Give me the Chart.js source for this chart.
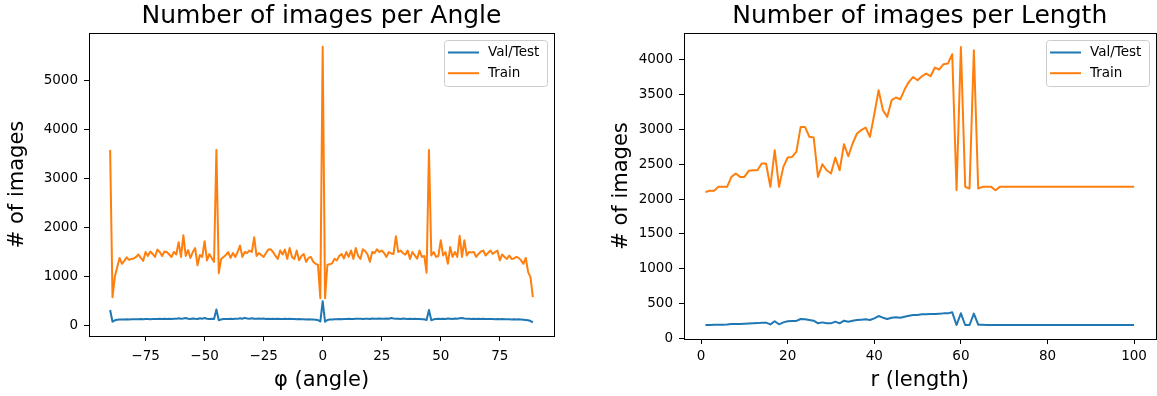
<!DOCTYPE html>
<html>
<head>
<meta charset="utf-8">
<title>Number of images per Angle / Length</title>
<script src="https://cdn.jsdelivr.net/npm/chart.js@4.4.1/dist/chart.umd.min.js"></script>
<style>
  html, body { margin: 0; padding: 0; background: #fff; }
  body { width: 1157px; height: 396px; position: relative; overflow: hidden; }
  canvas { position: absolute; top: 0; }
  #angleChart { left: 0; }
  #lengthChart { left: 578px; }
</style>
</head>
<body>
<canvas id="angleChart" width="578" height="396"></canvas>
<canvas id="lengthChart" width="579" height="396"></canvas>
<script>
// ---- data: images per angle ----
const ANGLES = [
  -90, -89, -88, -87, -86, -85, -84, -83, -82, -81,
  -80, -79, -78, -77, -76, -75, -74, -73, -72, -71,
  -70, -69, -68, -67, -66, -65, -64, -63, -62, -61,
  -60, -59, -58, -57, -56, -55, -54, -53, -52, -51,
  -50, -49, -48, -47, -46, -45, -44, -43, -42, -41,
  -40, -39, -38, -37, -36, -35, -34, -33, -32, -31,
  -30, -29, -28, -27, -26, -25, -24, -23, -22, -21,
  -20, -19, -18, -17, -16, -15, -14, -13, -12, -11,
  -10, -9, -8, -7, -6, -5, -4, -3, -2, -1,
  0, 1, 2, 3, 4, 5, 6, 7, 8, 9,
  10, 11, 12, 13, 14, 15, 16, 17, 18, 19,
  20, 21, 22, 23, 24, 25, 26, 27, 28, 29,
  30, 31, 32, 33, 34, 35, 36, 37, 38, 39,
  40, 41, 42, 43, 44, 45, 46, 47, 48, 49,
  50, 51, 52, 53, 54, 55, 56, 57, 58, 59,
  60, 61, 62, 63, 64, 65, 66, 67, 68, 69,
  70, 71, 72, 73, 74, 75, 76, 77, 78, 79,
  80, 81, 82, 83, 84, 85, 86, 87, 88, 89
];
const ANGLE_VAL = [
  320, 80, 110, 120, 125, 128, 126, 130, 128, 132,
  130, 133, 131, 135, 130, 134, 137, 133, 136, 138,
  135, 140, 136, 142, 138, 140, 137, 143, 139, 150,
  140, 145, 155, 140, 138, 146, 140, 137, 150, 142,
  155, 140, 136, 142, 135, 330, 110, 128, 135, 138,
  134, 140, 137, 143, 139, 150, 141, 160, 145, 140,
  150, 142, 139, 145, 140, 146, 138, 142, 135, 140,
  137, 143, 138, 135, 141, 136, 139, 134, 137, 132,
  135, 130, 133, 128, 130, 126, 128, 122, 115, 85,
  500, 80, 115, 125, 128, 132, 130, 135, 133, 137,
  135, 140, 138, 136, 142, 139, 141, 137, 143, 140,
  138, 145, 141, 139, 146, 140, 143, 148, 142, 155,
  145, 140, 142, 138, 144, 140, 137, 141, 136, 139,
  135, 138, 133, 130, 115, 320, 110, 130, 137, 140,
  135, 142, 138, 145, 140, 136, 148, 142, 150, 155,
  145, 140, 143, 138, 141, 137, 140, 135, 139, 136,
  138, 134, 137, 133, 136, 131, 135, 132, 130, 133,
  128, 131, 127, 129, 125, 122, 118, 110, 95, 70
];
const ANGLE_TRAIN = [
  3580, 580, 1000, 1190, 1380, 1260, 1320, 1390, 1340, 1360,
  1370, 1400, 1450, 1380, 1320, 1500, 1420, 1510, 1460, 1400,
  1550, 1500, 1420, 1510, 1500, 1450, 1400, 1500, 1450, 1700,
  1400, 1840, 1420, 1540, 1380, 1500, 1580, 1230, 1440, 1400,
  1720, 1330, 1460, 1380, 1300, 3580, 1070, 1360, 1400, 1440,
  1500, 1380, 1480, 1400, 1500, 1630, 1400, 1500, 1480, 1530,
  1500, 1800, 1420, 1480, 1440, 1400, 1480, 1550, 1555, 1500,
  1420, 1360, 1530, 1450, 1550, 1360, 1580, 1400, 1360, 1530,
  1330, 1420, 1460, 1300, 1380, 1400, 1300, 1260, 1240, 560,
  5680, 560, 1240, 1250, 1270, 1360, 1330, 1420, 1460, 1370,
  1500, 1400, 1530, 1360, 1580, 1420, 1360, 1555, 1520, 1450,
  1300, 1500, 1480, 1555, 1500, 1530, 1480, 1400, 1500, 1470,
  1460, 1820, 1500, 1530, 1480, 1445, 1530, 1360, 1500, 1430,
  1364, 1530, 1400, 1420, 1080, 3580, 1430, 1500, 1400, 1420,
  1740, 1430, 1500, 1260, 1600, 1400, 1500, 1400, 1830, 1400,
  1740, 1430, 1500, 1490, 1500, 1400, 1460, 1510, 1530, 1430,
  1480, 1530, 1460, 1500, 1530, 1330, 1450, 1400, 1360, 1430,
  1360, 1370, 1400, 1380, 1330, 1260, 1380, 1090, 990, 580
];
const ANGLE_TICKS = [-75, -50, -25, 0, 25, 50, 75];
const ANGLE_Y_TICKS = [0, 1000, 2000, 3000, 4000, 5000];

// ---- data: images per length ----
const LENGTHS = [
  1, 2, 3, 4, 5, 6, 7, 8, 9, 10,
  11, 12, 13, 14, 15, 16, 17, 18, 19, 20,
  21, 22, 23, 24, 25, 26, 27, 28, 29, 30,
  31, 32, 33, 34, 35, 36, 37, 38, 39, 40,
  41, 42, 43, 44, 45, 46, 47, 48, 49, 50,
  51, 52, 53, 54, 55, 56, 57, 58, 59, 60,
  61, 62, 63, 64, 65, 66, 67, 68, 69, 70,
  71, 72, 73, 74, 75, 76, 77, 78, 79, 80,
  81, 82, 83, 84, 85, 86, 87, 88, 89, 90,
  91, 92, 93, 94, 95, 96, 97, 98, 99, 100
];
const LENGTH_VAL = [
  191, 191, 193, 195, 196, 198, 205, 207, 207, 210,
  212, 215, 218, 225, 225, 200, 245, 201, 229, 245,
  248, 250, 277, 272, 263, 253, 215, 229, 215, 215,
  239, 215, 253, 239, 253, 263, 268, 272, 263, 287,
  320, 296, 277, 296, 301, 296, 310, 325, 334, 334,
  344, 344, 349, 349, 353, 358, 358, 373, 191, 359,
  191, 191, 355, 195, 193, 190, 190, 190, 190, 190,
  190, 190, 190, 190, 190, 190, 190, 190, 190, 190,
  190, 190, 190, 190, 190, 190, 190, 190, 190, 190,
  190, 190, 190, 190, 190, 190, 190, 190, 190, 190
];
const LENGTH_TRAIN = [
  2100, 2118, 2118, 2175, 2175, 2175, 2318, 2366, 2318, 2318,
  2405, 2413, 2413, 2510, 2510, 2175, 2702, 2175, 2462, 2597,
  2605, 2677, 3036, 3036, 2893, 2885, 2318, 2500, 2413, 2366,
  2597, 2413, 2788, 2614, 2797, 2941, 2989, 3027, 2893, 3218,
  3562, 3275, 3180, 3420, 3458, 3430, 3572, 3683, 3753, 3706,
  3763, 3801, 3763, 3888, 3860, 3936, 3945, 4079, 2128, 4184,
  2175, 2151, 4136, 2151, 2175, 2175, 2175, 2127, 2175, 2175,
  2175, 2175, 2175, 2175, 2175, 2175, 2175, 2175, 2175, 2175,
  2175, 2175, 2175, 2175, 2175, 2175, 2175, 2175, 2175, 2175,
  2175, 2175, 2175, 2175, 2175, 2175, 2175, 2175, 2175, 2175
];
const LENGTH_TICKS = [0, 20, 40, 60, 80, 100];
const LENGTH_Y_TICKS = [0, 500, 1000, 1500, 2000, 2500, 3000, 3500, 4000];

const SERIES_LABELS = ['Val/Test', 'Train'];
const BLUE = '#1f77b4';
const ORANGE = '#ff7f0e';

Chart.defaults.font.family = "'DejaVu Sans', sans-serif";
Chart.defaults.color = '#000';

// black box around the plot area, like matplotlib spines
const framePlugin = {
  id: 'frame',
  afterDatasetsDraw(chart) {
    const { ctx, chartArea: a } = chart;
    ctx.save();
    ctx.strokeStyle = '#000';
    ctx.lineWidth = 1;
    ctx.strokeRect(Math.round(a.left) + 0.5, Math.round(a.top) + 0.5,
      Math.round(a.right - a.left), Math.round(a.bottom - a.top));
    ctx.restore();
  }
};

// legend drawn inside the plot, upper right, with a light box
const boxLegend = {
  id: 'boxLegend',
  afterDraw(chart) {
    const { ctx, chartArea: a } = chart;
    const w = 103, h = 46;
    const x = Math.round(a.right - 7 - w), y = Math.round(a.top + 7);
    ctx.save();
    ctx.fillStyle = 'rgba(255,255,255,0.8)';
    ctx.strokeStyle = '#cccccc';
    ctx.lineWidth = 1;
    ctx.beginPath();
    ctx.roundRect(x + 0.5, y + 0.5, w, h, 3);
    ctx.fill();
    ctx.stroke();
    ctx.font = "13.5px 'DejaVu Sans'";
    ctx.textBaseline = 'middle';
    chart.data.datasets.forEach((ds, i) => {
      const ly = y + 12.5 + i * 20.7;
      ctx.strokeStyle = ds.borderColor;
      ctx.lineWidth = 2;
      ctx.beginPath();
      ctx.moveTo(x + 4, ly);
      ctx.lineTo(x + 35, ly);
      ctx.stroke();
      ctx.fillStyle = '#000';
      ctx.fillText(ds.label, x + 44, ly);
    });
    ctx.restore();
  }
};

const minus = v => String(v).replace('-', '\u2212');

function makeChart(id, c) {
  const series = (ys) => c.xs.map((x, i) => ({ x: x, y: ys[i] }));
  return new Chart(document.getElementById(id), {
    type: 'line',
    data: {
      datasets: [
        { label: SERIES_LABELS[0], data: series(c.val), borderColor: BLUE },
        { label: SERIES_LABELS[1], data: series(c.train), borderColor: ORANGE }
      ]
    },
    options: {
      responsive: false,
      animation: false,
      events: [],
      layout: { padding: { left: 0, right: c.padRight, top: 0, bottom: 0 } },
      elements: {
        point: { radius: 0 },
        line: { borderWidth: 2, tension: 0, fill: false, borderJoinStyle: 'round' }
      },
      plugins: {
        legend: { display: false },
        tooltip: { enabled: false },
        title: {
          display: true,
          fullSize: false,
          text: c.title,
          color: '#000',
          font: { size: 25, weight: 'normal' },
          padding: { top: 1.5, bottom: 1.5 }
        }
      },
      scales: {
        x: {
          type: 'linear',
          bounds: 'data',
          min: c.xMin,
          max: c.xMax,
          afterBuildTicks: ax => { ax.ticks = c.xTicks.map(v => ({ value: v })); },
          afterFit: ax => { ax.height = c.xAxisHeight; },
          grid: { drawOnChartArea: false, drawTicks: true, tickLength: 5, color: '#000' },
          border: { display: false },
          ticks: {
            color: '#000', font: { size: 13.5 }, padding: c.xTickPad,
            maxRotation: 0, autoSkip: false, callback: minus
          },
          title: {
            display: true, text: c.xLabel, color: '#000',
            font: { size: 21 }, padding: { top: 0, bottom: 3 }
          }
        },
        y: {
          type: 'linear',
          bounds: 'data',
          min: c.yMin,
          max: c.yMax,
          afterBuildTicks: ax => { ax.ticks = c.yTicks.map(v => ({ value: v })); },
          afterFit: ax => { ax.width = c.yAxisWidth; },
          grid: { drawOnChartArea: false, drawTicks: true, tickLength: 5, color: '#000' },
          border: { display: false },
          ticks: { color: '#000', font: { size: 13.5 }, padding: 6, autoSkip: false, callback: minus },
          title: {
            display: true, text: '# of images', color: '#000',
            font: { size: 21 }, padding: { top: c.yTitlePad, bottom: 0 }
          }
        }
      }
    },
    plugins: [framePlugin, boxLegend]
  });
}

makeChart('angleChart', {
  title: 'Number of images per Angle',
  xLabel: 'φ (angle)',
  xs: ANGLES, val: ANGLE_VAL, train: ANGLE_TRAIN,
  xTicks: ANGLE_TICKS, yTicks: ANGLE_Y_TICKS,
  xMin: -98.95, xMax: 97.95, yMin: -210, yMax: 5960,
  padRight: 24, xAxisHeight: 60, yAxisWidth: 89,
  xTickPad: 7, yTitlePad: 5
});

makeChart('lengthChart', {
  title: 'Number of images per Length',
  xLabel: 'r (length)',
  xs: LENGTHS, val: LENGTH_VAL, train: LENGTH_TRAIN,
  xTicks: LENGTH_TICKS, yTicks: LENGTH_Y_TICKS,
  xMin: -3.95, xMax: 104.95, yMin: -10, yMax: 4384,
  padRight: 1.5, xAxisHeight: 57, yAxisWidth: 106,
  xTickPad: 4.6, yTitlePad: 31
});
</script>
</body>
</html>
